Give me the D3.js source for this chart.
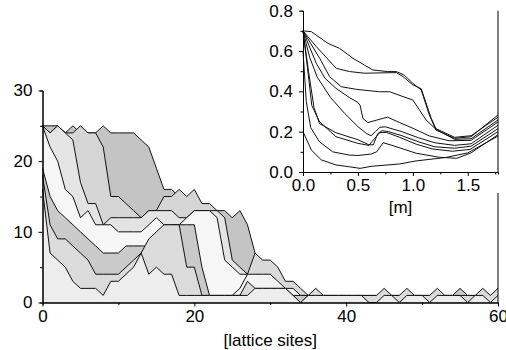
<!DOCTYPE html>
<html>
<head>
<meta charset="utf-8">
<script src="https://cdn.jsdelivr.net/npm/d3@7"></script>
<style>
  html, body { margin: 0; padding: 0; background: #fff; }
  svg { display: block; }
  text { font-family: "Liberation Sans", Arial, Helvetica, sans-serif; }
</style>
</head>
<body>
<svg id="chart" width="506" height="350"></svg>
<script>
// ---- main panel: height profiles along the lattice, in drawing order ----
const sites = d3.range(0, 61);

const profile0 = [25,25,25,24,25,24,24,24,25,24, 24,24,24,23,22,19,16,16,15,14,
                  13,12,12,12,11,10,9,8,6,5, 4,3,2,1,0,0,0,0,0,0,
                  0,0,0,0,0,0,0,0,0,0, 0,0,0,0,0,0,0,0,0,0,0];
const profile1 = [25,24,25,24,24,25,24,24,22,15, 15,14,13,12,13,13,15,15,16,15,
                  16,14,14,13,12,10,8,6,5,4, 3,2,1,0,0,0,0,0,0,0,
                  0,0,0,0,0,0,0,0,0,0, 0,0,0,0,0,0,0,0,0,0,0];
const profile2 = [5,5,5,5,5,5,5,5,5,5, 5,5,5,5,5,5,5,5,5,5,
                  9,11,12,13,13,12,13,11,7,5, 4,3,2,1,0,0,0,0,0,0,
                  0,0,0,0,0,0,0,0,0,0, 0,0,0,0,0,0,0,0,0,0,0];
const profile3 = [25,24,25,24,23,17,14,14,11,12, 12,12,12,12,13,13,13,13,12,12,
                  13,13,13,13,12,6,5,4,4,3, 3,2,2,1,1,0,0,0,0,0,
                  0,0,0,0,0,0,0,0,0,0, 0,0,0,0,0,0,0,0,0,0,0];
const profile4 = [25,22,20,16,15,12,13,11,11,11, 10,10,10,10,11,12,11,11,11,12,
                  13,13,13,12,6,5,4,4,4,4, 4,3,2,2,1,1,0,0,0,0,
                  0,0,0,0,0,0,0,0,0,0, 0,0,0,0,0,0,0,0,0,0,0];
const profile5 = [0,0,0,0,0,0,0,0,0,0, 0,0,0,0,0,0,0,0,0,0,
                  0,0,0,0,0,0,0,4,7,6, 6,5,3,3,2,1,0,0,0,0,
                  0,0,0,0,0,0,0,0,0,0, 0,0,0,0,0,0,0,0,0,0,0];
const profile6 = [0,0,0,0,0,0,0,0,0,0, 0,0,0,0,0,0,0,0,0,0,
                  0,0,0,0,0,1,2,4,4,4, 4,3,2,2,1,1,1,0,0,0,
                  0,0,0,0,0,0,0,0,0,0, 0,0,0,0,0,0,0,0,0,0,0];
const profile7 = [19,15,13,12,11,10,9,8,7,7, 7,8,8,8,8,9,10,11,11,11,
                  11,5,1,1,1,1,1,1,1,1, 1,1,1,1,1,1,1,1,1,1,
                  1,1,1,1,1,1,1,1,1,1, 1,1,1,1,1,2,1,1,1,1,1];
const profile8 = [18,11,9,9,8,7,6,4,4,4, 4,5,6,7,9,10,11,11,11,5,
                  5,1,1,1,1,1,1,3,2,2, 2,2,2,1,0,1,2,1,1,1,
                  1,1,1,1,1,2,1,1,2,1, 1,1,2,1,1,1,1,1,2,1,2];
const profile9 = [16,7,6,5,3,2,2,2,1,3, 3,4,5,7,4,5,4,4,1,1,
                  1,1,1,1,1,1,1,1,2,2, 2,2,2,1,0,1,1,1,1,1,
                  1,1,1,0,0,1,1,0,1,1, 1,0,1,1,1,1,0,1,1,0,1];

const profiles = [profile0, profile1, profile2, profile3, profile4,
                  profile5, profile6, profile7, profile8, profile9];
const fills = ["#c4c4c4", "#d5d5d5", "#c4c4c4", "#e4e4e4", "#f6f6f6",
               "#d9d9d9", "#f3f3f3", "#cacaca", "#dbdbdb", "#ededed"];

const mainXTicks = [0, 20, 40, 60];
const mainXMinor = [10, 30, 50];
const mainYTicks = [0, 10, 20, 30];
const mainYMinor = [5, 15, 25];

// ---- inset: curves over distance in metres ----
const curve1 = [[0,0.70],[0.076,0.696],[0.227,0.638],[0.333,0.613],[0.455,0.564],[0.56,0.53],[0.636,0.506],[0.77,0.498],[0.85,0.498],[0.92,0.481],[1.0,0.44],[1.076,0.407],[1.15,0.283],[1.21,0.208],[1.38,0.167],[1.53,0.175],[1.775,0.283]];
const curve2 = [[0,0.70],[0.121,0.622],[0.303,0.514],[0.424,0.498],[0.56,0.49],[0.85,0.493],[0.91,0.473],[1.0,0.432],[1.076,0.413],[1.167,0.266],[1.21,0.215],[1.38,0.172],[1.53,0.18],[1.775,0.272]];
const curve3 = [[0,0.70],[0.152,0.564],[0.242,0.473],[0.348,0.423],[0.485,0.41],[0.697,0.398],[0.79,0.398],[0.91,0.374],[1.0,0.357],[1.12,0.258],[1.21,0.212],[1.38,0.162],[1.53,0.165],[1.775,0.258]];
const curve4 = [[0,0.70],[0.12,0.54],[0.2,0.465],[0.3,0.415],[0.42,0.37],[0.5,0.345],[0.52,0.33],[0.545,0.266],[0.59,0.245],[0.727,0.266],[0.77,0.272],[0.88,0.245],[1.0,0.217],[1.15,0.179],[1.33,0.155],[1.53,0.157],[1.775,0.248]];
const curve5 = [[0,0.70],[0.06,0.57],[0.13,0.47],[0.25,0.37],[0.38,0.29],[0.5,0.225],[0.58,0.19],[0.62,0.18],[0.66,0.2],[0.7,0.222],[0.75,0.224],[0.9,0.2],[1.05,0.17],[1.2,0.145],[1.38,0.132],[1.53,0.14],[1.775,0.232]];
const curve6 = [[0,0.70],[0.05,0.5],[0.1,0.32],[0.15,0.24],[0.3,0.195],[0.5,0.16],[0.6,0.135],[0.64,0.135],[0.68,0.19],[0.72,0.205],[0.78,0.2],[0.9,0.18],[1.05,0.15],[1.2,0.125],[1.38,0.118],[1.53,0.128],[1.775,0.215]];
const curve7 = [[0,0.70],[0.04,0.52],[0.08,0.33],[0.15,0.25],[0.3,0.175],[0.5,0.142],[0.6,0.132],[0.65,0.165],[0.7,0.196],[0.76,0.196],[0.88,0.172],[1.03,0.138],[1.18,0.114],[1.36,0.103],[1.52,0.112],[1.775,0.2]];
const curve8 = [[0,0.60],[0.03,0.35],[0.07,0.22],[0.15,0.15],[0.27,0.1],[0.42,0.084],[0.5,0.082],[0.62,0.089],[0.67,0.1],[0.73,0.145],[0.8,0.134],[1.03,0.093],[1.24,0.073],[1.4,0.068],[1.53,0.095],[1.775,0.185]];
const curve9 = [[0,0.2],[0.076,0.109],[0.167,0.06],[0.3,0.035],[0.42,0.026],[0.52,0.018],[0.62,0.028],[0.88,0.04],[1.03,0.055],[1.3,0.072],[1.5,0.095],[1.775,0.178]];
const insetCurves = [curve1, curve2, curve3, curve4, curve5, curve6, curve7, curve8, curve9];

const insetXTicks = [0, 0.5, 1.0, 1.5];
const insetXMinor = [0.25, 0.75, 1.25, 1.75];
const insetYTicks = [0, 0.2, 0.4, 0.6, 0.8];
const insetYMinor = [0.1, 0.3, 0.5, 0.7];

// ---- drawing ----
const svg = d3.select("#chart");
const FONT = 17;

const x = d3.scaleLinear().domain([0, 60]).range([42.5, 498]);
const y = d3.scaleLinear().domain([0, 30]).range([302.5, 90.5]);

const area = d3.area().x((d, i) => x(sites[i])).y0(y(0)).y1(d => y(d));
const line = d3.line().x((d, i) => x(sites[i])).y(d => y(d));

const layerG = svg.append("g");
profiles.forEach((p, k) => {
  layerG.append("path").attr("d", area(p)).attr("fill", fills[k]).attr("stroke", "none");
  layerG.append("path").attr("d", line(p)).attr("fill", "none")
    .attr("stroke", "#111").attr("stroke-width", 1).attr("stroke-linejoin", "round");
});

function styleAxis(g) {
  g.selectAll("path.domain").attr("stroke", "#000").attr("stroke-width", 1);
  g.selectAll(".tick line").attr("stroke", "#000").attr("stroke-width", 1);
  g.selectAll(".tick text").attr("fill", "#000").attr("font-size", FONT)
    .attr("font-family", '"Liberation Sans", Arial, sans-serif');
}

// right border of the main panel
svg.append("line").attr("x1", x(60)).attr("x2", x(60)).attr("y1", y(0)).attr("y2", y(30))
  .attr("stroke", "#000").attr("stroke-width", 1);

const gxm = svg.append("g").attr("transform", `translate(0,${y(0)})`)
  .call(d3.axisBottom(x).tickValues(mainXMinor).tickSize(2.5).tickFormat(""));
styleAxis(gxm);
const gx = svg.append("g").attr("transform", `translate(0,${y(0)})`)
  .call(d3.axisBottom(x).tickValues(mainXTicks).tickSize(4).tickSizeOuter(0).tickPadding(3));
styleAxis(gx);

const gym = svg.append("g").attr("transform", `translate(${x(0)},0)`)
  .call(d3.axisLeft(y).tickValues(mainYMinor).tickSize(2.5).tickFormat(""));
styleAxis(gym);
const gy = svg.append("g").attr("transform", `translate(${x(0)},0)`)
  .call(d3.axisLeft(y).tickValues(mainYTicks).tickSize(4).tickSizeOuter(0).tickPadding(6));
styleAxis(gy);

svg.append("text").attr("x", (x(0) + x(60)) / 2).attr("y", 346)
  .attr("text-anchor", "middle").attr("font-size", FONT).attr("fill", "#000")
  .text("[lattice sites]");

// ---- inset panel ----
const ix = d3.scaleLinear().domain([0, 1.775]).range([303, 498]);
const iy = d3.scaleLinear().domain([0, 0.8]).range([172, 10.7]);

svg.append("rect").attr("x", 258).attr("y", 0).attr("width", 248).attr("height", 193)
  .attr("fill", "#fff");

const iline = d3.line().x(d => ix(d[0])).y(d => iy(d[1]));
const insetG = svg.append("g");
insetCurves.forEach(c => {
  insetG.append("path").attr("d", iline(c)).attr("fill", "none")
    .attr("stroke", "#111").attr("stroke-width", 1).attr("stroke-linejoin", "round");
});

svg.append("line").attr("x1", ix(1.775)).attr("x2", ix(1.775)).attr("y1", iy(0)).attr("y2", iy(0.8))
  .attr("stroke", "#000").attr("stroke-width", 1);

const ixm = svg.append("g").attr("transform", `translate(0,${iy(0)})`)
  .call(d3.axisBottom(ix).tickValues(insetXMinor).tickSize(2.5).tickFormat(""));
styleAxis(ixm);
const ixa = svg.append("g").attr("transform", `translate(0,${iy(0)})`)
  .call(d3.axisBottom(ix).tickValues(insetXTicks).tickSize(4).tickSizeOuter(0)
    .tickPadding(3).tickFormat(d3.format(".1f")));
styleAxis(ixa);

const iym = svg.append("g").attr("transform", `translate(${ix(0)},0)`)
  .call(d3.axisLeft(iy).tickValues(insetYMinor).tickSize(2.5).tickFormat(""));
styleAxis(iym);
const iya = svg.append("g").attr("transform", `translate(${ix(0)},0)`)
  .call(d3.axisLeft(iy).tickValues(insetYTicks).tickSize(4).tickSizeOuter(0)
    .tickPadding(6).tickFormat(d3.format(".1f")));
styleAxis(iya);

svg.append("text").attr("x", (ix(0) + ix(1.775)) / 2).attr("y", 213)
  .attr("text-anchor", "middle").attr("font-size", FONT).attr("fill", "#000")
  .text("[m]");
</script>
</body>
</html>
